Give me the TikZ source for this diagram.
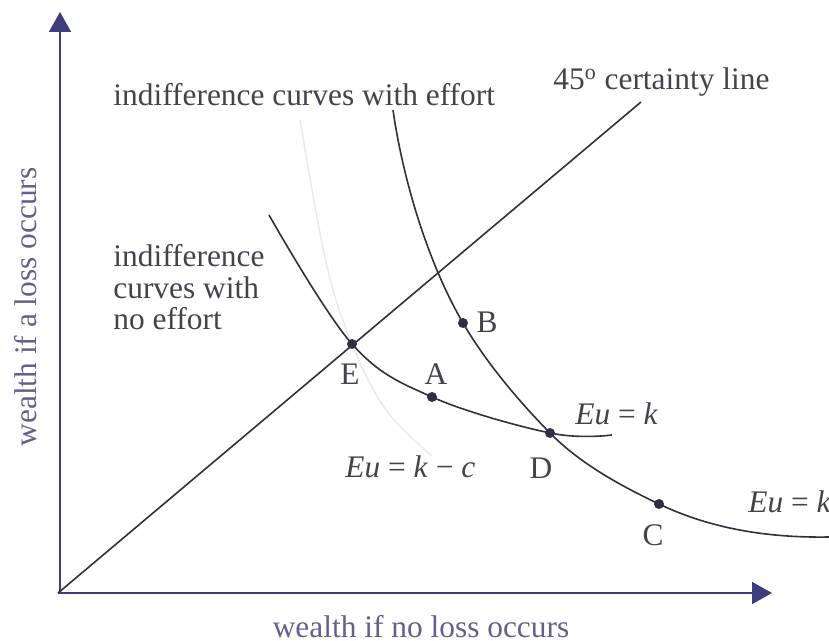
\documentclass[tikz,border=0pt]{standalone}
\usepackage{fontspec}
\setmainfont{Liberation Serif}
\usetikzlibrary{arrows.meta}

\definecolor{axiscol}{RGB}{62,62,122}
\definecolor{curvecol}{RGB}{52,44,66}
\definecolor{textcol}{RGB}{68,66,78}
\definecolor{axlabcol}{RGB}{104,94,142}
\definecolor{faintcol}{RGB}{228,234,242}

\begin{document}
\begin{tikzpicture}[x=0.5pt, y=-0.5pt,
  txt/.style={inner sep=0pt, text=textcol, font=\fontsize{15.7}{15.8}\selectfont},
  axlab/.style={inner sep=0pt, text=axlabcol, font=\fontsize{15.7}{15.8}\selectfont},
  curve/.style={curvecol, line width=0.8pt},
  axis/.style={axiscol, line width=1pt, -{Triangle[length=10pt, width=11pt]}},
  pt/.style={circle, fill=curvecol, inner sep=0pt, minimum size=5pt}]

  \useasboundingbox (0,0) rectangle (829,641);

  % axes
  \coordinate (O) at (58,593);
  \coordinate (ytop) at (60,12);
  \coordinate (xend) at (772,593);
  \draw[axis] (60,593) -- (ytop);
  \draw[axis] (O) -- (xend);

  % points on the curves
  \coordinate (E) at (352,344);
  \coordinate (A) at (432,397);
  \coordinate (B) at (463,323);
  \coordinate (D) at (550,433);
  \coordinate (C) at (659,504);
  \coordinate (cert) at (641,102);
  \coordinate (effstart) at (393,110);
  \coordinate (effend) at (829,537);

  % faint curve Eu = k - c
  \draw[faintcol, line width=0.7pt] plot[smooth, tension=0.6] coordinates
    {(300,120) (326,262) (E) (386,410) (432,456)};

  % certainty line
  \draw[curve] (O) -- (cert);

  % no effort
  \draw[curve] plot[smooth, tension=0.6] coordinates
    {(269,215) (E) (A) (D) (612,435)};

  % with effort
  \draw[curve] (effstart) .. controls (403,180) and (428,263) .. (B)
    .. controls (485.5,361.7) and (518.5,401) .. (D)
    .. controls (580,463.5) and (620,485.5) .. (C)
    .. controls (711,529) and (769,538) .. (effend);

  \foreach \p in {E,A,B,D,C}
    \node[pt] at (\p) {};

  % labels
  \node[txt, anchor=base west] (effortlab) at (113,106) {indifference curves with effort};
  \node[txt, anchor=base west] (certlab) at (553,90) {45\textsuperscript{o} certainty line};
  \node[txt, anchor=north west, align=left] (noefflab) at (113,244) {indifference\\curves with\\no effort};

  \node[txt, anchor=base] (Elab) at (350,385) {E};
  \node[txt, anchor=base] (Alab) at (436,385) {A};
  \node[txt, anchor=base] (Blab) at (487,333) {B};
  \node[txt, anchor=base] (Dlab) at (541,478) {D};
  \node[txt, anchor=base] (Clab) at (653,545) {C};

  \node[txt, anchor=base west] (euk1) at (575,424) {\textit{Eu} = \textit{k}};
  \node[txt, anchor=base west] (euk2) at (748,512) {\textit{Eu} = \textit{k}};
  \node[txt, anchor=base west] (eukc) at (345,477) {\textit{Eu} = \textit{k} − \textit{c}};

  \node[axlab, anchor=base] (xlab) at (421,637) {wealth if no loss occurs};
  \node[axlab, anchor=base, rotate=90] (ylab) at (36,307) {wealth if a loss occurs};

\end{tikzpicture}
\end{document}
